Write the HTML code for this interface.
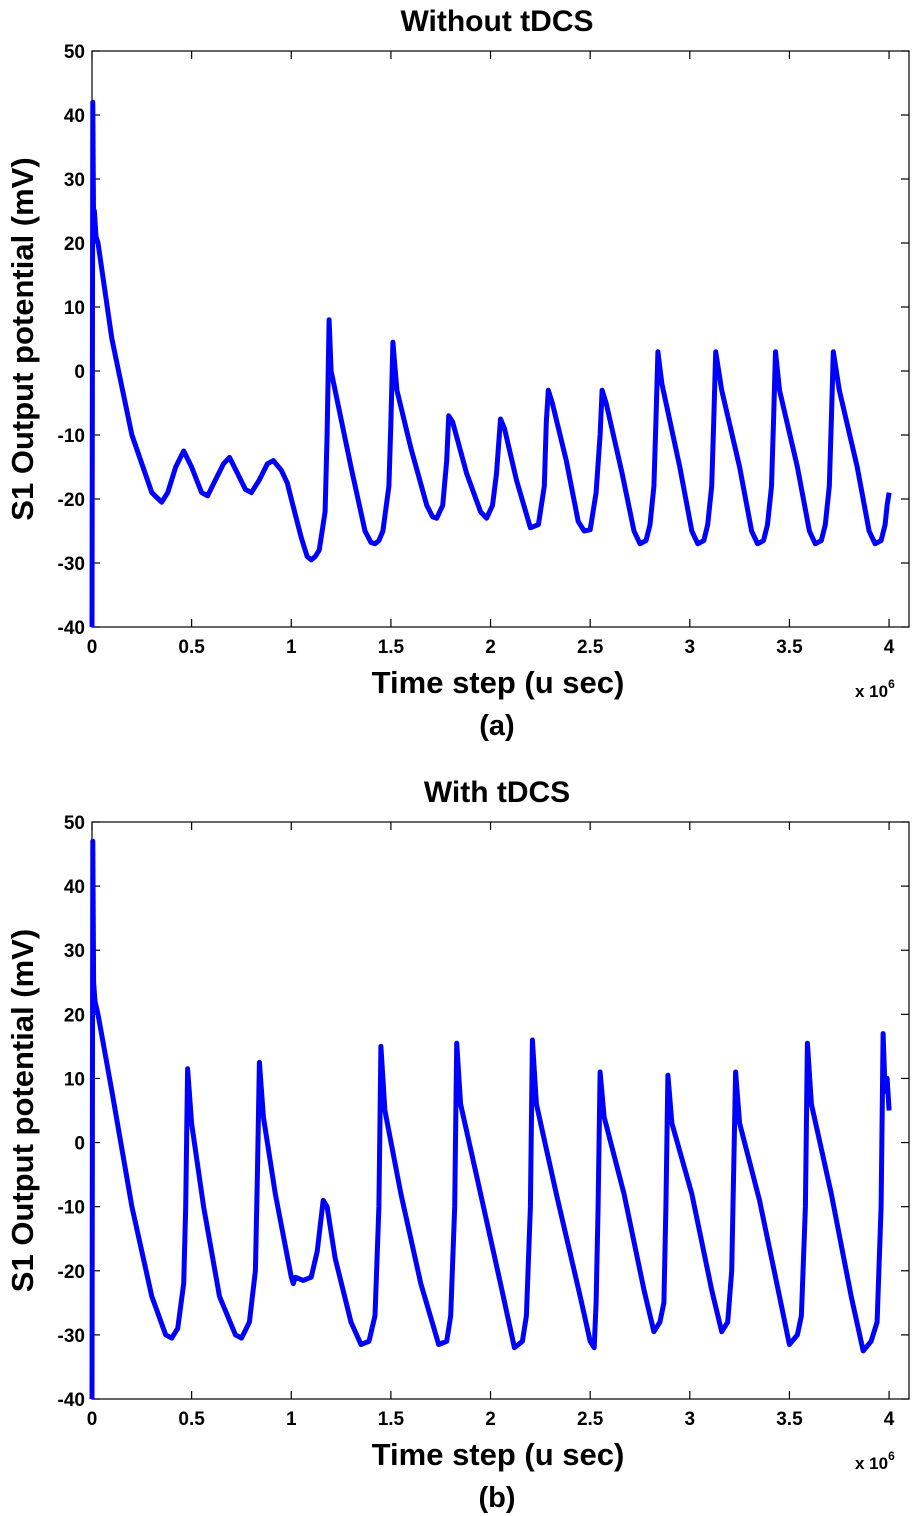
<!DOCTYPE html>
<html><head><meta charset="utf-8">
<style>
html,body{margin:0;padding:0;background:#fff;}
svg{display:block;}
text{font-family:"Liberation Sans",Arial,sans-serif;font-weight:bold;fill:#000;}
</style></head>
<body>
<svg id="fig" width="917" height="1516" viewBox="0 0 917 1516"></svg>
<script>
// Panel (a) data: time (x10^6 us) and potential (mV)
const timeA = [0,0.004,0.008,0.012,0.02,0.03,0.1,0.2,0.3,0.35,0.38,0.42,0.46,0.5,0.55,0.58,0.62,0.66,0.69,0.73,0.77,0.8,0.84,0.88,0.91,0.95,0.98,1.0,1.05,1.08,1.1,1.12,1.14,1.17,1.18,1.19,1.2,1.22,1.3,1.37,1.4,1.42,1.44,1.46,1.49,1.5,1.51,1.53,1.6,1.68,1.71,1.73,1.76,1.78,1.79,1.81,1.88,1.95,1.98,2.01,2.03,2.05,2.07,2.13,2.2,2.24,2.27,2.28,2.29,2.31,2.38,2.44,2.47,2.5,2.53,2.55,2.56,2.58,2.66,2.72,2.75,2.78,2.8,2.82,2.83,2.84,2.86,2.95,3.01,3.04,3.07,3.09,3.11,3.12,3.13,3.16,3.25,3.31,3.34,3.37,3.39,3.41,3.42,3.43,3.45,3.54,3.6,3.63,3.66,3.68,3.7,3.71,3.72,3.75,3.84,3.9,3.93,3.96,3.98,3.99,4.0];
const voltA = [-40,42,22,25,21,20,5,-10,-19,-20.5,-19,-15,-12.5,-15,-19,-19.5,-17,-14.5,-13.5,-16,-18.5,-19,-17,-14.5,-14,-15.5,-17.5,-20,-26,-29,-29.5,-29,-28,-22,-10,8,0,-3,-15,-25,-26.8,-27,-26.5,-25,-18,-8,4.5,-3,-12,-21,-22.8,-23,-21,-14,-7,-8,-16,-22,-23,-21,-16,-7.5,-9,-17,-24.5,-24,-18,-8,-3,-5,-14,-23.5,-25,-24.8,-19,-10,-3,-5,-16,-25,-27,-26.5,-24,-18,-8,3,-2,-15,-25,-27,-26.5,-24,-18,-8,3,-3,-15,-25,-27,-26.5,-24,-18,-8,3,-3,-15,-25,-27,-26.5,-24,-18,-8,3,-3,-15,-25,-27,-26.5,-24,-21,-19];
// Panel (b) data
const timeB = [0,0.004,0.008,0.015,0.03,0.1,0.2,0.3,0.37,0.4,0.43,0.46,0.47,0.48,0.5,0.56,0.64,0.72,0.75,0.79,0.82,0.83,0.84,0.86,0.92,1.0,1.01,1.02,1.06,1.1,1.13,1.16,1.18,1.22,1.3,1.35,1.39,1.42,1.44,1.45,1.47,1.55,1.65,1.74,1.78,1.8,1.82,1.83,1.85,1.95,2.05,2.12,2.16,2.18,2.2,2.21,2.23,2.33,2.45,2.5,2.52,2.53,2.54,2.55,2.57,2.67,2.77,2.82,2.85,2.87,2.88,2.89,2.91,3.01,3.11,3.16,3.19,3.21,3.22,3.23,3.25,3.35,3.45,3.5,3.54,3.56,3.58,3.59,3.61,3.71,3.81,3.87,3.91,3.94,3.96,3.97,3.98,3.99,4.0];
const voltB = [-40,47,25,22,20,8,-10,-24,-30,-30.5,-29,-22,-10,11.5,3,-10,-24,-30,-30.5,-28,-20,-5,12.5,4,-8,-21,-22,-21,-21.5,-21,-17,-9,-10,-18,-28,-31.5,-31,-27,-10,15,5,-8,-22,-31.5,-31,-27,-10,15.5,6,-8,-22,-32,-31,-27,-10,16,6,-8,-24,-31,-32,-25,-10,11,4,-8,-23,-29.5,-28,-25,-10,10.5,3,-8,-23,-29.5,-28,-20,-5,11,3,-9,-24,-31.5,-30,-27,-10,15.5,6,-8,-24,-32.5,-31,-28,-10,17,8,10,5];
const yTicks = [50,40,30,20,10,0,-10,-20,-30,-40];
const xTicks = [0,0.5,1,1.5,2,2.5,3,3.5,4];
const xTickLabels = ['0','0.5','1','1.5','2','2.5','3','3.5','4'];

const NS='http://www.w3.org/2000/svg';
const svg=document.getElementById('fig');
const L=92,R=909,XMAX=4.1;
function mk(tag,attrs,parent){const e=document.createElementNS(NS,tag);for(const k in attrs)e.setAttribute(k,attrs[k]);(parent||svg).appendChild(e);return e;}

function panel(top,bottom,title,tLabel,times,volts,id){
  const g=mk('g',{});
  
  
  const xs=v=>L+(v/XMAX)*(R-L);
  const ys=v=>top+(50-v)/90*(bottom-top);
  const ttl=mk('text',{x:497,y:top-20,'font-size':30,'text-anchor':'middle'},g);ttl.textContent=title;
  
  
  const box=mk('rect',{x:L,y:top,width:R-L,height:bottom-top,fill:'none',stroke:'#000','stroke-width':1.2},g);
  
  
  yTicks.forEach(v=>{
    const y=ys(v);
    mk('line',{x1:L,y1:y,x2:L+8,y2:y,stroke:'#000','stroke-width':1.2},g);
    mk('line',{x1:R,y1:y,x2:R-8,y2:y,stroke:'#000','stroke-width':1.2},g);
    const t=mk('text',{x:L-7,y:y+7,'font-size':19,'text-anchor':'end'},g);t.textContent=String(v);
    
    
  });
  xTicks.forEach((v,i)=>{
    const x=xs(v);
    mk('line',{x1:x,y1:bottom,x2:x,y2:bottom-8,stroke:'#000','stroke-width':1.2},g);
    mk('line',{x1:x,y1:top,x2:x,y2:top+8,stroke:'#000','stroke-width':1.2},g);
    const t=mk('text',{x:x,y:bottom+26,'font-size':19,'text-anchor':'middle'},g);t.textContent=xTickLabels[i];
    
    
  });
  const pts=times.map((t,i)=>xs(t).toFixed(1)+','+ys(volts[i]).toFixed(1)).join(' ');
  const line=mk('polyline',{points:pts,fill:'none',stroke:'#0000ff','stroke-width':5,'stroke-linejoin':'round','stroke-linecap':'butt'},g);
  
  
  const yl=mk('text',{x:0,y:0,'font-size':31,'text-anchor':'middle',transform:`translate(33,${(top+bottom)/2}) rotate(-90)`},g);
  yl.textContent='S1 Output potential (mV)';
  
  
  const xl=mk('text',{x:498,y:bottom+66,'font-size':31,'text-anchor':'middle'},g);
  xl.textContent='Time step (u sec)';
  
  
  const ex=mk('text',{x:855,y:bottom+70,'font-size':17},g);
  ex.innerHTML='x 10<tspan dy="-9" font-size="12">6</tspan>';
  
  
  const lab=mk('text',{x:497,y:bottom+108,'font-size':29,'text-anchor':'middle'},g);
  lab.textContent=tLabel;
  
  
}
panel(51,627,'Without tDCS','(a)',timeA,voltA,'a');
panel(822,1399,'With tDCS','(b)',timeB,voltB,'b');
</script>
</body></html>
